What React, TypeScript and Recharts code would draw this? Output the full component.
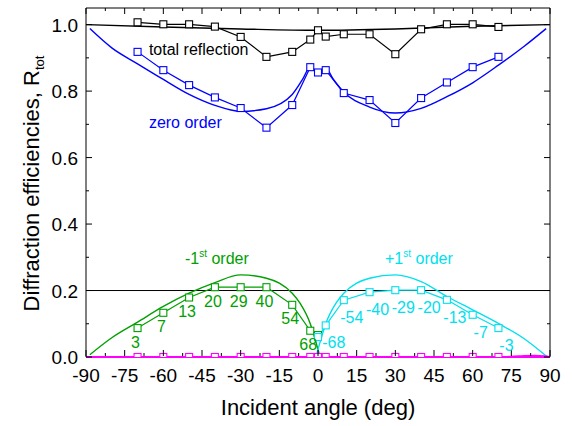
import React from 'react';
import { ComposedChart, Line, XAxis, YAxis, ReferenceLine, ReferenceDot, LabelList } from 'recharts';

const FONT = "'Liberation Sans', Arial, Helvetica, sans-serif";
const BLACK = '#000000';
const BLUE = '#0000ff';
const GREEN = '#00a000';
const CYAN = '#00e0ee';
const MAGENTA = '#ff00ff';

// Measured incident angles (deg)
const angles = [-70, -60, -50, -40, -30, -20, -10, -3, 0, 3, 10, 20, 30, 40, 50, 60, 70];
const totalMeas = [1.007, 1.001, 1.001, 0.994, 0.963, 0.903, 0.918, 0.955, 0.983, 0.964, 0.971, 0.971, 0.911, 0.986, 1.001, 1.001, 0.993];
const zeroMeas = [0.918, 0.863, 0.818, 0.781, 0.749, 0.69, 0.758, 0.872, 0.856, 0.863, 0.794, 0.773, 0.704, 0.779, 0.826, 0.872, 0.903];
const higherMeas = [0, 0, 0, 0, 0, 0, 0, 0, 0, 0, 0, 0, 0, 0, 0, 0, 0];

const minusAngles = [-70, -60, -50, -40, -30, -20, -10, -3, 0];
const minusMeas = [0.087, 0.133, 0.179, 0.21, 0.21, 0.21, 0.157, 0.079, 0.066];
const minusLabels = ['3', '7', '13', '20', '29', '40', '54', '68', ''];

const plusAngles = [0, 3, 10, 20, 30, 40, 50, 60, 70];
const plusMeas = [0.06, 0.095, 0.171, 0.195, 0.201, 0.201, 0.172, 0.127, 0.087];
const plusLabels = ['', '-68', '-54', '-40', '-29', '-20', '-13', '-7', '-3'];

// Theory curves
const totalThX = [-90, -60, -30, 0, 30, 60, 90];
const totalThY = [1.0, 0.993, 0.987, 0.983, 0.987, 0.995, 1.0];

const zeroThX = [-88.5, -80, -70, -60, -50, -40, -30, -20, -10, -6, -3, 0, 3, 6, 10, 20, 30, 40, 50, 60, 70, 80, 88.5];
const zeroThY = [0.988, 0.93, 0.882, 0.835, 0.79, 0.757, 0.739, 0.747, 0.79, 0.835, 0.872, 0.855, 0.868, 0.835, 0.797, 0.752, 0.734, 0.748, 0.783, 0.825, 0.878, 0.935, 0.988];

const minusThX = [-88.5, -80, -70, -60, -50, -40, -30, -20, -15, -10, -7, -3, -1, 0.8];
const minusThY = [0.007, 0.058, 0.105, 0.152, 0.192, 0.224, 0.247, 0.237, 0.222, 0.192, 0.162, 0.1, 0.05, 0];

const plusThX = [-0.8, 1, 3, 7, 10, 15, 20, 30, 40, 50, 60, 70, 80, 89];
const plusThY = [0, 0.05, 0.1, 0.162, 0.192, 0.222, 0.237, 0.247, 0.227, 0.182, 0.142, 0.101, 0.055, 0];

const higherThX = [-90, 72, 78, 84, 88, 90];
const higherThY = [0, 0, 0.002, 0.004, 0.002, 0];

const xTicks = [-90, -82.5, -75, -67.5, -60, -52.5, -45, -37.5, -30, -22.5, -15, -7.5, 0, 7.5, 15, 22.5, 30, 37.5, 45, 52.5, 60, 67.5, 75, 82.5, 90];
const yTicks = [0, 0.1, 0.2, 0.3, 0.4, 0.5, 0.6, 0.7, 0.8, 0.9, 1.0];

const pts = (xs: number[], ys: number[]) => xs.map((x, i) => ({ x, y: ys[i] }));
const lblPts = (xs: number[], ys: number[], ls: string[]) => xs.map((x, i) => ({ x, y: ys[i], lbl: ls[i] }));

const square = (color: string) => (props: any) => {
  const { cx, cy, index } = props;
  if (cx == null || cy == null || isNaN(cx) || isNaN(cy)) return <g key={`e${index}`} />;
  return <rect key={`s${index}`} x={cx - 3.5} y={cy - 3.5} width={7} height={7} fill="#ffffff" stroke={color} strokeWidth={1.1} />;
};

const isMajorX = (v: number) => Math.abs(v / 15 - Math.round(v / 15)) < 1e-6;
const isMajorY = (v: number) => Math.abs(v * 5 - Math.round(v * 5)) < 1e-6;

const XTickBottom = (props: any) => {
  const { x, y, payload } = props;
  const v = payload.value as number;
  const major = isMajorX(v);
  return (
    <g>
      <line x1={x} x2={x} y1={y - 1} y2={y - (major ? 7 : 4)} stroke={BLACK} strokeWidth={1} />
      {major && (
        <text x={x} y={y + 25} textAnchor="middle" fontSize={19} fontFamily={FONT} fill={BLACK}>{String(v)}</text>
      )}
    </g>
  );
};
const XTickTop = (props: any) => {
  const { x, y, payload } = props;
  const major = isMajorX(payload.value);
  return <line x1={x} x2={x} y1={y} y2={y + (major ? 6 : 3)} stroke={BLACK} strokeWidth={1} />;
};
const YTickLeft = (props: any) => {
  const { x, y, payload } = props;
  const v = payload.value as number;
  const major = isMajorY(v);
  return (
    <g>
      <line x1={x} x2={x + (major ? 6 : 3)} y1={y} y2={y} stroke={BLACK} strokeWidth={1} />
      {major && (
        <text x={x - 8} y={y + 7} textAnchor="end" fontSize={19} fontFamily={FONT} fill={BLACK}>{v.toFixed(1)}</text>
      )}
    </g>
  );
};
const YTickRight = (props: any) => {
  const { x, y, payload } = props;
  const major = isMajorY(payload.value);
  return <line x1={x} x2={x - (major ? 6 : 3)} y1={y} y2={y} stroke={BLACK} strokeWidth={1} />;
};

const XTitle = (props: any) => {
  const vb = props.viewBox || { x: 86, y: 357, width: 464, height: 69 };
  return (
    <text x={vb.x + vb.width / 2} y={vb.y + 58} textAnchor="middle" fontSize={22} fontFamily={FONT} fill={BLACK}>
      Incident angle (deg)
    </text>
  );
};
const YTitle = (props: any) => {
  const vb = props.viewBox || { x: 0, y: 8, width: 86, height: 349 };
  const cx = vb.x + 39;
  const cy = vb.y + vb.height / 2 + 1;
  return (
    <text x={cx} y={cy} textAnchor="middle" fontSize={22} fontFamily={FONT} fill={BLACK} transform={`rotate(-90 ${cx} ${cy})`}>
      <tspan>Diffraction efficiencies, R</tspan>
      <tspan fontSize={13} dy={5}>tot</tspan>
    </text>
  );
};

const greenLabel = (p: any) => {
  if (!p.value) return <g />;
  return (
    <text x={p.x - 2} y={p.y + 19.5} textAnchor="middle" fill={GREEN} fontSize={16} fontFamily={FONT}>{p.value}</text>
  );
};
const cyanLabel = (p: any) => {
  if (!p.value) return <g />;
  return (
    <text x={p.x + 8} y={p.y + 23} textAnchor="middle" fill={CYAN} fontSize={16} fontFamily={FONT}>{p.value}</text>
  );
};

const plainText = (text: string, color: string) => (p: any) => (
  <text x={p.cx} y={p.cy} fill={color} fontSize={16} fontFamily={FONT}>{text}</text>
);
const orderText = (sign: string, color: string) => (p: any) => (
  <text x={p.cx} y={p.cy} fill={color} fontSize={16} fontFamily={FONT}>
    <tspan>{sign}1</tspan>
    <tspan dy={-7} fontSize={10}>st</tspan>
    <tspan dy={7}> order</tspan>
  </text>
);

export default function App() {
  return (
    <div style={{ position: 'absolute', left: 0, top: 0, background: '#fff' }}>
      <ComposedChart width={572} height={426} margin={{ top: 0, right: 0, bottom: 0, left: 0 }}>
        <XAxis
          type="number" dataKey="x" domain={[-90, 90]} ticks={xTicks} interval={0}
          orientation="bottom" height={69} tickSize={0} tickMargin={0} tickLine={false}
          axisLine={{ stroke: MAGENTA, strokeWidth: 2 }} tick={XTickBottom} allowDataOverflow
          label={(p: any) => <XTitle {...p} />}
        />
        <XAxis
          xAxisId="top" type="number" dataKey="x" domain={[-90, 90]} ticks={xTicks} interval={0}
          orientation="top" height={8} tickSize={0} tickMargin={0} tickLine={false}
          axisLine={{ stroke: BLACK, strokeWidth: 1 }} tick={XTickTop} allowDataOverflow
        />
        <YAxis
          type="number" domain={[0, 1.05]} ticks={yTicks} interval={0}
          orientation="left" width={86} tickSize={0} tickMargin={0} tickLine={false}
          axisLine={{ stroke: BLACK, strokeWidth: 1 }} tick={YTickLeft} allowDataOverflow
          label={(p: any) => <YTitle {...p} />}
        />
        <YAxis
          yAxisId="right" type="number" domain={[0, 1.05]} ticks={yTicks} interval={0}
          orientation="right" width={22} tickSize={0} tickMargin={0} tickLine={false}
          axisLine={{ stroke: BLACK, strokeWidth: 1 }} tick={YTickRight} allowDataOverflow
        />

        <ReferenceLine y={0.2} stroke={BLACK} strokeWidth={1} />

        <Line data={pts(totalThX, totalThY)} dataKey="y" type="monotone" stroke={BLACK} strokeWidth={1.4} dot={false} isAnimationActive={false} />
        <Line data={pts(angles, totalMeas)} dataKey="y" type="linear" stroke={BLACK} strokeWidth={1.2} dot={square(BLACK)} isAnimationActive={false} />

        <Line data={pts(zeroThX, zeroThY)} dataKey="y" type="monotone" stroke={BLUE} strokeWidth={1.4} dot={false} isAnimationActive={false} />
        <Line data={pts(angles, zeroMeas)} dataKey="y" type="linear" stroke={BLUE} strokeWidth={1.2} dot={square(BLUE)} isAnimationActive={false} />

        <Line data={pts(minusThX, minusThY)} dataKey="y" type="monotone" stroke={GREEN} strokeWidth={1.4} dot={false} isAnimationActive={false} />
        <Line data={lblPts(minusAngles, minusMeas, minusLabels)} dataKey="y" type="linear" stroke={GREEN} strokeWidth={1.2} dot={square(GREEN)} isAnimationActive={false}>
          <LabelList dataKey="lbl" content={greenLabel} />
        </Line>

        <Line data={pts(plusThX, plusThY)} dataKey="y" type="monotone" stroke={CYAN} strokeWidth={1.4} dot={false} isAnimationActive={false} />
        <Line data={lblPts(plusAngles, plusMeas, plusLabels)} dataKey="y" type="linear" stroke={CYAN} strokeWidth={1.2} dot={square(CYAN)} isAnimationActive={false}>
          <LabelList dataKey="lbl" content={cyanLabel} />
        </Line>

        <Line data={pts(higherThX, higherThY)} dataKey="y" type="monotone" stroke={MAGENTA} strokeWidth={2} dot={false} isAnimationActive={false} />
        <Line data={pts(angles, higherMeas)} dataKey="y" type="linear" stroke={MAGENTA} strokeWidth={2} dot={square(MAGENTA)} isAnimationActive={false} />

        <ReferenceDot x={-65.6} y={0.91} r={0} shape={plainText('total reflection', BLACK)} />
        <ReferenceDot x={-65.6} y={0.69} r={0} shape={plainText('zero order', BLUE)} />
        <ReferenceDot x={-51.6} y={0.28} r={0} shape={orderText('-', GREEN)} />
        <ReferenceDot x={26} y={0.28} r={0} shape={orderText('+', CYAN)} />
      </ComposedChart>
    </div>
  );
}
